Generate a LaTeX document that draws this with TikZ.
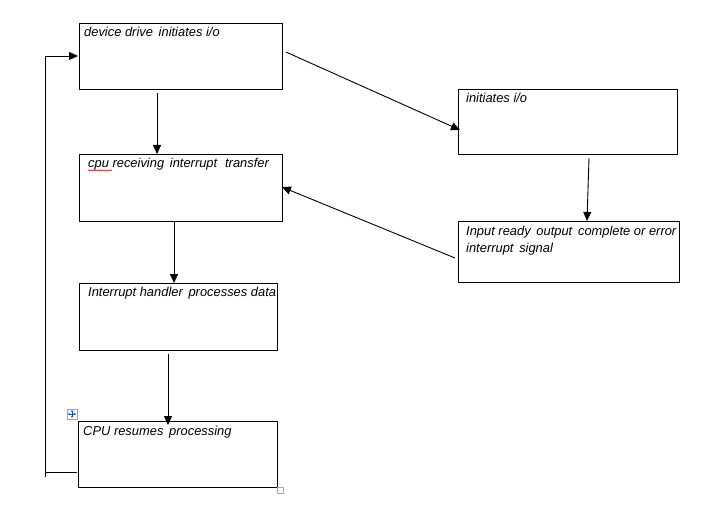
\documentclass[tikz,border=0pt]{standalone}
\usepackage{fontspec}
\setmainfont{Liberation Sans}
\usetikzlibrary{arrows.meta,decorations.pathmorphing}
\begin{document}
\begin{tikzpicture}[x=1pt,y=-1pt,
 box/.style={draw,line width=0.9pt,inner sep=0,anchor=north west},
 lbl/.style={inner sep=0,anchor=base west,font=\itshape\fontsize{12.9}{17}\selectfont,align=left},
 ln/.style={line width=0.9pt},
 arr/.style={line width=0.9pt,-{Triangle[length=9pt,width=8pt]}}]
\useasboundingbox[fill=white] (0,0) rectangle (728,532);
% boxes
\node[box,minimum width=203,minimum height=66] (b1) at (79,23) {};
\node[box,minimum width=203,minimum height=67] (b2) at (79,154) {};
\node[box,minimum width=198,minimum height=67] (b3) at (79,283) {};
\node[box,minimum width=199,minimum height=66] (b4) at (78,421) {};
\node[box,minimum width=219,minimum height=65] (b5) at (458,89) {};
\node[box,minimum width=221,minimum height=61] (b6) at (458,221) {};
% labels
\node[lbl] (t1) at (84,37) {device drive\, initiates i/o};
\node[lbl] (t2) at (88,167.5) {cpu receiving\, interrupt\,\, transfer};
\node[lbl] (t3) at (88,296.5) {Interrupt handler\, processes data};
\node[lbl] (t4) at (83,435.5) {CPU resumes\, processing};
\node[lbl] (t5) at (466,102.5) {initiates i/o};
\node[lbl,anchor=north west] (t6) at (466,225.5) {Input ready\, output\, complete or error\\interrupt\, signal};
% spell-check squiggle
\draw[red!85!black,line width=0.5pt,decorate,decoration={snake,amplitude=0.7pt,segment length=2.4pt}] ([yshift=-3pt]t2.base west) -- ++(24,0);
% arrows
\draw[arr] ([xshift=78pt,yshift=-3pt]b1.south west) -- ([xshift=78pt]b2.north west);
\draw[arr] ([xshift=95pt]b2.south west) -- ([xshift=95pt]b3.north west);
\draw[arr] ([xshift=89pt,yshift=-3pt]b3.south west) -- ([xshift=90pt,yshift=-4pt]b4.north west);
\draw[arr] ([xshift=3pt,yshift=-29pt]b1.north east) -- ([xshift=2pt,yshift=-41pt]b5.north west);
\draw[arr] ([xshift=131pt,yshift=-3pt]b5.south west) -- ([xshift=129pt]b6.north west);
\draw[arr] ([xshift=-3pt,yshift=-37pt]b6.north west) -- ([xshift=-1pt,yshift=-33pt]b2.north east);
% loop back
\coordinate (c0) at (45,472);
\coordinate (c1) at (45,477);
\coordinate (c2) at (45,56);
\draw[ln] ([xshift=-1pt,yshift=-51pt]b4.north west) -- (c0);
\draw[ln] (c1) -- (c2);
\draw[arr] (c2) -- ([xshift=-1pt,yshift=-33pt]b1.north west);
% Word handles
\node[draw=gray!70,fill=white,line width=0.6pt,minimum size=10,inner sep=0] (mv) at (72,414) {};
\draw[blue!70!cyan,line width=0.6pt,{Stealth[length=2pt,width=2.2pt]}-{Stealth[length=2pt,width=2.2pt]}] ([xshift=-4pt]mv.center) -- ([xshift=4pt]mv.center);
\draw[blue!70!cyan,line width=0.6pt,{Stealth[length=2pt,width=2.2pt]}-{Stealth[length=2pt,width=2.2pt]}] ([yshift=-4pt]mv.center) -- ([yshift=4pt]mv.center);
\node[draw=gray!70,fill=white,line width=0.6pt,minimum size=6,inner sep=0] (rs) at (280,490) {};
\end{tikzpicture}
\end{document}
